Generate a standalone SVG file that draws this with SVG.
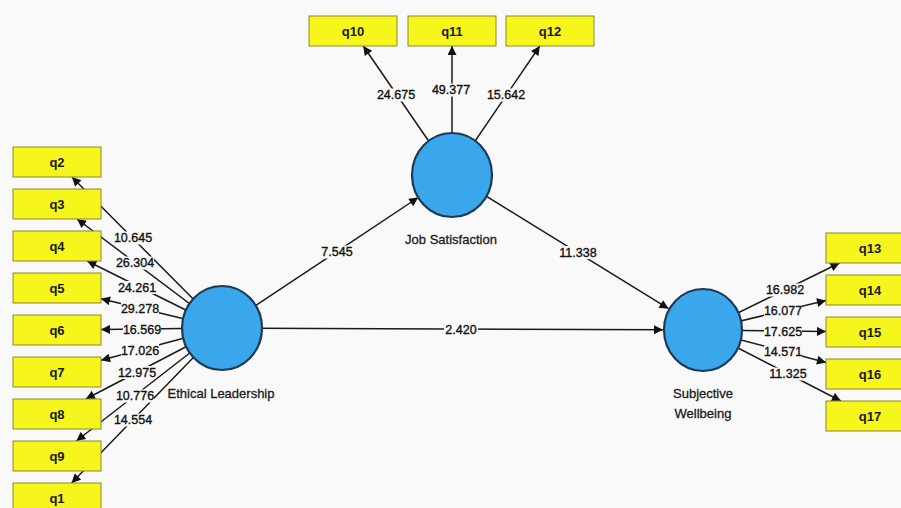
<svg xmlns="http://www.w3.org/2000/svg" width="901" height="508" viewBox="0 0 901 508">
<defs>
<style>
.box{fill:#f6f51c;stroke:#8c8a2c;stroke-width:1}
.bt{font-family:"Liberation Sans",Arial,sans-serif;font-size:13px;font-weight:bold;fill:#1a1a1a;text-anchor:middle}
.lv{fill:#3aa6ec;stroke:#1d3a55;stroke-width:2.2}
.nl{font-family:"Liberation Sans",Arial,sans-serif;font-size:13px;fill:#1a1a1a;stroke:#1a1a1a;stroke-width:0.3;text-anchor:middle}
.ln{stroke:#1a1a1a;stroke-width:1.5;fill:none;marker-end:url(#ah)}
.lb{fill:#f9f9f9}
.el{font-family:"Liberation Sans",Arial,sans-serif;font-size:12.5px;fill:#111;stroke:#111;stroke-width:0.35;text-anchor:middle}
</style>
<marker id="ah" viewBox="0 0 10 10" refX="10" refY="5" markerWidth="10" markerHeight="9" markerUnits="userSpaceOnUse" orient="auto">
<path d="M0,0 L10,5 L0,10 z" fill="#111"/>
</marker>
</defs>
<rect x="0" y="0" width="901" height="508" fill="#f9f9f9"/>
<g id="connectors">
<line class="ln" x1="222" y1="328" x2="71.9" y2="177"/>
<line class="ln" x1="222" y1="328" x2="77" y2="219"/>
<line class="ln" x1="222" y1="328" x2="87.2" y2="261"/>
<line class="ln" x1="222" y1="328" x2="101" y2="298.7"/>
<line class="ln" x1="222" y1="328" x2="101" y2="329.5"/>
<line class="ln" x1="222" y1="328" x2="101" y2="360.3"/>
<line class="ln" x1="222" y1="328" x2="85.8" y2="399"/>
<line class="ln" x1="222" y1="328" x2="76.3" y2="441"/>
<line class="ln" x1="222" y1="328" x2="71.6" y2="483"/>
<line class="ln" x1="452" y1="175" x2="363.3" y2="46"/>
<line class="ln" x1="452" y1="175" x2="452" y2="46"/>
<line class="ln" x1="452" y1="175" x2="539.8" y2="46"/>
<line class="ln" x1="703" y1="330" x2="839.5" y2="263"/>
<line class="ln" x1="703" y1="330" x2="826" y2="300.5"/>
<line class="ln" x1="703" y1="330" x2="826" y2="331.5"/>
<line class="ln" x1="703" y1="330" x2="826" y2="362.4"/>
<line class="ln" x1="703" y1="330" x2="840.9" y2="401"/>
<line class="ln" x1="222" y1="328" x2="418.2" y2="197.5"/>
<line class="ln" x1="452" y1="175" x2="668.5" y2="308.7"/>
<line class="ln" x1="222" y1="328" x2="663" y2="329.8"/>
<g class="lb">
<rect x="114" y="231.5" width="38" height="13"/>
<rect x="116" y="256.5" width="38" height="13"/>
<rect x="118" y="281" width="38" height="13"/>
<rect x="121" y="302.5" width="38" height="13"/>
<rect x="123" y="323.5" width="38" height="13"/>
<rect x="121" y="344" width="38" height="13"/>
<rect x="118" y="366" width="38" height="13"/>
<rect x="116" y="389.5" width="38" height="13"/>
<rect x="114" y="413.5" width="38" height="13"/>
<rect x="377" y="88.5" width="38" height="13"/>
<rect x="432" y="83.5" width="38" height="13"/>
<rect x="487" y="88.5" width="38" height="13"/>
<rect x="766" y="283.5" width="38" height="13"/>
<rect x="764" y="304.5" width="38" height="13"/>
<rect x="764" y="325" width="38" height="13"/>
<rect x="764" y="345.5" width="38" height="13"/>
<rect x="769" y="367.5" width="38" height="13"/>
<rect x="321" y="245.5" width="32" height="13"/>
<rect x="559" y="246" width="38" height="13"/>
<rect x="444" y="323" width="34" height="13"/>
</g>
<text class="el" x="133" y="238" dy="0.35em">10.645</text>
<text class="el" x="135" y="263" dy="0.35em">26.304</text>
<text class="el" x="137" y="287.5" dy="0.35em">24.261</text>
<text class="el" x="140" y="309" dy="0.35em">29.278</text>
<text class="el" x="142" y="330" dy="0.35em">16.569</text>
<text class="el" x="140" y="350.5" dy="0.35em">17.026</text>
<text class="el" x="137" y="372.5" dy="0.35em">12.975</text>
<text class="el" x="135" y="396" dy="0.35em">10.776</text>
<text class="el" x="133" y="420" dy="0.35em">14.554</text>
<text class="el" x="396" y="95" dy="0.35em">24.675</text>
<text class="el" x="451" y="90" dy="0.35em">49.377</text>
<text class="el" x="506" y="95" dy="0.35em">15.642</text>
<text class="el" x="785" y="290" dy="0.35em">16.982</text>
<text class="el" x="783" y="311" dy="0.35em">16.077</text>
<text class="el" x="783" y="331.5" dy="0.35em">17.625</text>
<text class="el" x="783" y="352" dy="0.35em">14.571</text>
<text class="el" x="788" y="374" dy="0.35em">11.325</text>
<text class="el" x="337" y="252" dy="0.35em">7.545</text>
<text class="el" x="578" y="252.5" dy="0.35em">11.338</text>
<text class="el" x="461" y="329.5" dy="0.35em">2.420</text>
</g>
<g id="node-q2"><rect class="box" x="13" y="147" width="88" height="30"/><text class="bt" x="57" y="166.5">q2</text></g>
<g id="node-q3"><rect class="box" x="13" y="189" width="88" height="30"/><text class="bt" x="57" y="208.5">q3</text></g>
<g id="node-q4"><rect class="box" x="13" y="231" width="88" height="30"/><text class="bt" x="57" y="250.5">q4</text></g>
<g id="node-q5"><rect class="box" x="13" y="273" width="88" height="30"/><text class="bt" x="57" y="292.5">q5</text></g>
<g id="node-q6"><rect class="box" x="13" y="315" width="88" height="30"/><text class="bt" x="57" y="334.5">q6</text></g>
<g id="node-q7"><rect class="box" x="13" y="357" width="88" height="30"/><text class="bt" x="57" y="376.5">q7</text></g>
<g id="node-q8"><rect class="box" x="13" y="399" width="88" height="30"/><text class="bt" x="57" y="418.5">q8</text></g>
<g id="node-q9"><rect class="box" x="13" y="441" width="88" height="30"/><text class="bt" x="57" y="460.5">q9</text></g>
<g id="node-q1"><rect class="box" x="13" y="483" width="88" height="30"/><text class="bt" x="57" y="502.5">q1</text></g>
<g id="node-q10"><rect class="box" x="309" y="16" width="88" height="30"/><text class="bt" x="353" y="35.5">q10</text></g>
<g id="node-q11"><rect class="box" x="408" y="16" width="88" height="30"/><text class="bt" x="452" y="35.5">q11</text></g>
<g id="node-q12"><rect class="box" x="506" y="16" width="88" height="30"/><text class="bt" x="550" y="35.5">q12</text></g>
<g id="node-q13"><rect class="box" x="826" y="233" width="88" height="30"/><text class="bt" x="870" y="252.5">q13</text></g>
<g id="node-q14"><rect class="box" x="826" y="275" width="88" height="30"/><text class="bt" x="870" y="294.5">q14</text></g>
<g id="node-q15"><rect class="box" x="826" y="317" width="88" height="30"/><text class="bt" x="870" y="336.5">q15</text></g>
<g id="node-q16"><rect class="box" x="826" y="359" width="88" height="30"/><text class="bt" x="870" y="378.5">q16</text></g>
<g id="node-q17"><rect class="box" x="826" y="401" width="88" height="30"/><text class="bt" x="870" y="420.5">q17</text></g>
<g id="node-ethical-leadership"><ellipse class="lv" cx="222" cy="328" rx="40" ry="42"/><text class="nl" x="221" y="398">Ethical Leadership</text></g>
<g id="node-job-satisfaction"><ellipse class="lv" cx="452" cy="175" rx="40" ry="42"/><text class="nl" x="451" y="244">Job Satisfaction</text></g>
<g id="node-subjective-wellbeing"><ellipse class="lv" cx="703" cy="330" rx="39" ry="41"/><text class="nl" x="703" y="398">Subjective</text><text class="nl" x="703" y="418">Wellbeing</text></g>
</svg>
